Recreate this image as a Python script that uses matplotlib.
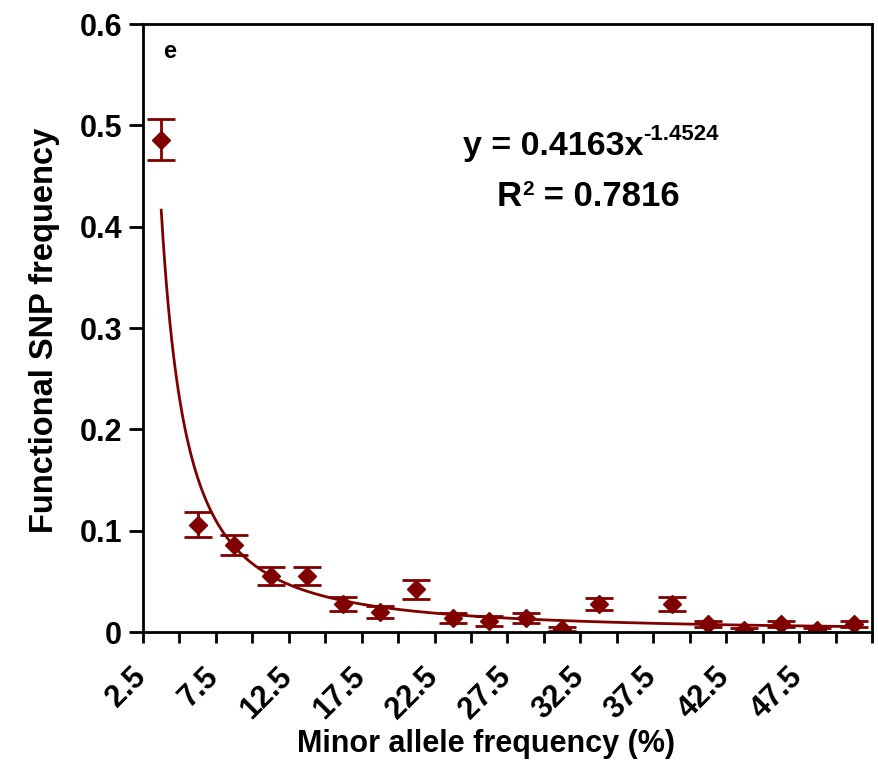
import numpy as np
import matplotlib
matplotlib.use("Agg")
import matplotlib.pyplot as plt
from matplotlib.transforms import ScaledTranslation, IdentityTransform

plt.rcParams['font.family'] = ['Liberation Sans', 'DejaVu Sans']
plt.rcParams['font.weight'] = 'bold'

# minor allele frequency bins (%), one point per bin
maf = [2.5, 5, 7.5, 10, 12.5, 15, 17.5, 20, 22.5, 25,
       27.5, 30, 32.5, 35, 37.5, 40, 42.5, 45, 47.5, 50]
freq = [0.486, 0.106, 0.086, 0.055, 0.055, 0.028, 0.020, 0.042, 0.014, 0.011,
        0.014, 0.003, 0.028, np.nan, 0.028, 0.008, 0.002, 0.008, 0.002, 0.008]
err = [0.020, 0.012, 0.010, 0.009, 0.009, 0.007, 0.006, 0.009, 0.005, 0.005,
       0.005, 0.002, 0.006, np.nan, 0.007, 0.003, 0.002, 0.003, 0.002, 0.003]

# power trendline from the chart
coef_a = 0.4163
coef_b = -1.4524
r2 = 0.7816

col = '#800000'
W, H = 879, 760

fig = plt.figure(figsize=(W / 100, H / 100), dpi=100)
ax = fig.add_axes([143 / W, 1 - 632 / H, 729 / W, 608 / H])

pos = np.arange(1, len(maf) + 1)
xs = np.linspace(1, len(maf), 400)
ax.plot(xs, coef_a * xs ** coef_b, color=col, lw=2)

ax.errorbar(pos, freq, yerr=err, fmt='D', color=col, ms=9, ecolor=col,
            elinewidth=2, capsize=10, capthick=2)

ax.set_xlim(0.5, len(maf) + 0.5)
ax.set_ylim(0, 0.6)
ax.set_yticks([0, 0.1, 0.2, 0.3, 0.4, 0.5, 0.6])
ax.set_yticklabels(['0', '0.1', '0.2', '0.3', '0.4', '0.5', '0.6'])

# category boundary ticks, labels on every other category
ax.set_xticks(np.arange(0.5, len(maf) + 1, 1))
ax.set_xticklabels([])
ax.set_xticks(pos[::2], minor=True)
ax.set_xticklabels([str(m) for m in maf[::2]], minor=True, rotation=45,
                   ha='right', va='top', rotation_mode='anchor')
ax.tick_params(axis='x', which='minor', length=0, pad=0, labelsize=22)
ax.tick_params(axis='x', which='major', length=8, width=2, direction='out')
ax.tick_params(axis='y', length=10, width=2, direction='out', labelsize=22, pad=5)
off = ScaledTranslation(-0.30, -0.30, fig.dpi_scale_trans)
for lab in ax.get_xticklabels(minor=True):
    lab.set_transform(lab.get_transform() + off)

for s in ax.spines.values():
    s.set_linewidth(2)

ax.set_xlabel('Minor allele frequency (%)', fontsize=22, fontweight='bold')
ax.xaxis.set_label_coords((486 - 143) / 729, (632 - 729) / 608)
ax.set_ylabel('Functional SNP frequency', fontsize=23.5, fontweight='bold')
ax.yaxis.set_label_coords((60 - 143) / 729, (632 - 330) / 608)

ax.text((170 - 143) / 729, (632 - 52) / 608, 'e', transform=ax.transAxes,
        fontsize=17, fontweight='bold', ha='center', va='center')


# equation lines with superscripts, placed in pixel coordinates
renderer = fig.canvas.get_renderer()


def place(parts, cx, base_y):
    texts = []
    for s, size, rise in parts:
        t = fig.text(0, 0, s, fontsize=size, fontweight='bold', ha='left',
                     va='baseline', transform=IdentityTransform())
        texts.append((t, rise))
    widths = [t.get_window_extent(renderer).width for t, _ in texts]
    x = cx - sum(widths) / 2
    for (t, rise), w in zip(texts, widths):
        t.set_position((x, H - base_y + rise))
        x += w


place([('y = 0.4163x', 24.5, 0), ('-1.4524', 16, 15)], 591, 155)
place([('R', 25, 0), ('2', 15, 11), (' = 0.7816', 25, 0)], 588, 206)

fig.savefig('out.png', dpi=100)
